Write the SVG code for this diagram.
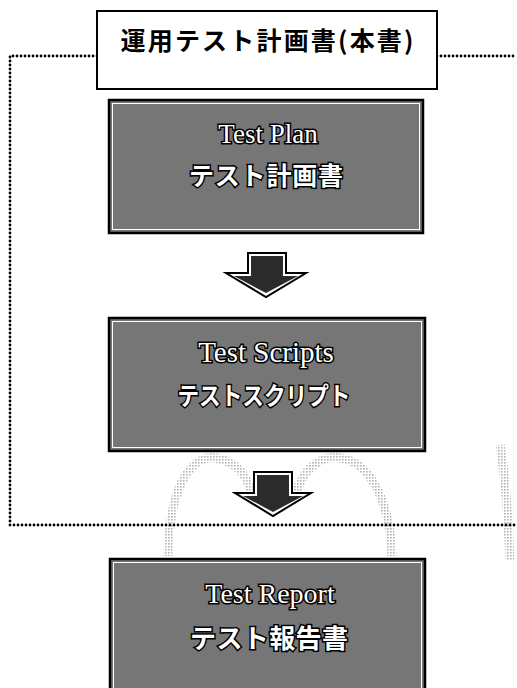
<svg xmlns="http://www.w3.org/2000/svg" width="517" height="688" viewBox="0 0 517 688">
<defs>
<style>
.dot{fill:none;stroke:#000;stroke-width:2.8;stroke-linecap:round;stroke-dasharray:0 4}
.box{fill:#767676;stroke:#000;stroke-width:2.5}
.inner{fill:none;stroke:#fff;stroke-width:1}
.en{font-family:"Liberation Serif",serif;fill:#fff;stroke:#000;stroke-width:3;paint-order:stroke;text-anchor:middle}
.ja{font-family:"Noto Sans CJK JP",sans-serif;font-weight:bold;fill:#fff;stroke:#000;stroke-width:3;paint-order:stroke;text-anchor:middle}
.arrowOut{fill:#fff;stroke:#000;stroke-width:2;stroke-linejoin:miter}
.arrowIn{fill:#2b2b2b}
.ghost{fill:none;stroke:url(#stip);stroke-width:9}
</style>
<pattern id="stip" width="3" height="3" patternUnits="userSpaceOnUse">
<rect x="0" y="0" width="1.6" height="1.6" fill="#555"/>
</pattern>
</defs>
<rect width="517" height="688" fill="#fff"/>
<g id="ghosts" opacity="0.45">
<path class="ghost" d="M168,556 C170,470 200,455 215,458 C240,462 250,480 252,500"/>
<path class="ghost" d="M295,500 C300,470 320,455 340,458 C370,462 390,500 392,556"/>
<path class="ghost" d="M500,445 C506,480 508,520 510,560"/>
</g>
<g id="connectors">
<path class="dot" d="M97,56 L10,56 L10,525 L517,525"/>
<path class="dot" d="M437,56 L517,56"/>
<g id="arrow1">
<polygon class="arrowOut" points="248,253 286,253 286,273 306,273 266,297 226,273 248,273"/>
<polygon class="arrowIn" points="251,256 283,256 283,276 298,276 266,293 234,276 251,276"/>
</g>
<g id="arrow2">
<polygon class="arrowOut" points="254,472 292,472 292,493 311,493 273,516 235,493 254,493"/>
<polygon class="arrowIn" points="257,475 289,475 289,496 303,496 273,512 243,496 257,496"/>
</g>
</g>
<g id="title">
<rect x="97" y="11" width="340" height="78" fill="#fff" stroke="#000" stroke-width="2"/>
<text x="267" y="49.5" font-family="'Noto Sans CJK JP',sans-serif" font-weight="bold" font-size="25" text-anchor="middle" textLength="293" lengthAdjust="spacing">運用テスト計画書(本書)</text>
</g>
<g id="testplan">
<rect class="box" x="109" y="100" width="314" height="133"/>
<rect class="inner" x="112.5" y="103.5" width="307" height="126"/>
<text class="en" x="268" y="143" font-size="27">Test Plan</text>
<text class="ja" x="266" y="185" font-size="25" textLength="154" lengthAdjust="spacing">テスト計画書</text>
</g>
<g id="testscripts">
<rect class="box" x="109" y="318" width="316" height="133"/>
<rect class="inner" x="112.5" y="321.5" width="309" height="126"/>
<text class="en" x="266" y="362" font-size="29">Test Scripts</text>
<text class="ja" x="264" y="405" font-size="25" textLength="173" lengthAdjust="spacingAndGlyphs">テストスクリプト</text>
</g>
<g id="testreport">
<rect class="box" x="110" y="559" width="315" height="140"/>
<rect class="inner" x="113.5" y="562.5" width="308" height="140"/>
<text class="en" x="270" y="603" font-size="28">Test Report</text>
<text class="ja" x="269" y="648" font-size="26" textLength="158" lengthAdjust="spacing">テスト報告書</text>
</g>
</svg>
